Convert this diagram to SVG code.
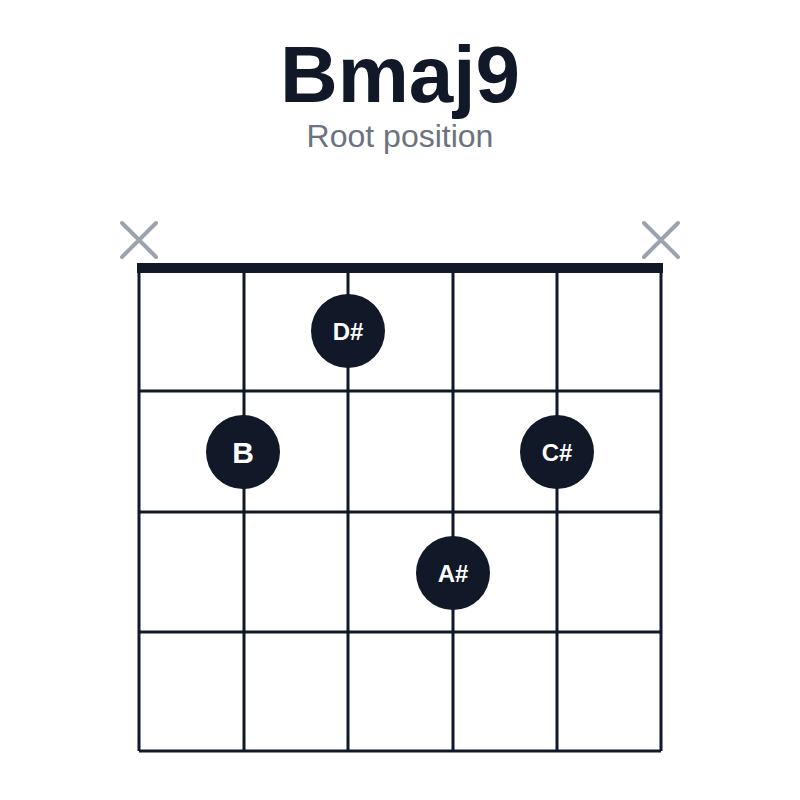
<svg xmlns="http://www.w3.org/2000/svg" width="800" height="800" viewBox="0 0 800 800">
<style>
.s{stroke:#111827;stroke-width:3;fill:none}
.x{stroke:#9ca3af;stroke-width:4;stroke-linecap:round}
.d{fill:#111827}
.t{fill:#fff;font-family:"Liberation Sans",Arial,sans-serif;font-weight:bold;text-anchor:middle}
</style>
<rect width="800" height="800" fill="#fff"/>
<text x="400" y="102" text-anchor="middle" font-family="Liberation Sans,Arial,sans-serif" font-weight="bold" font-size="80" fill="#111827">Bmaj9</text>
<text x="400" y="147" text-anchor="middle" font-family="Liberation Sans,Arial,sans-serif" font-size="32" fill="#6b7280">Root position</text>
<g id="grid">
<path class="s" d="M139 268V751M244 268V751M348 268V751M453 268V751M557 268V751M661 268V751M139 391H661M139 512H661M139 632H661M139 751H661"/>
<rect x="137" y="263" width="526" height="10" fill="#111827"/>
</g>
<g id="mutes">
<path class="x" d="M122 223L156 257M156 223L122 257M644 223L678 257M678 223L644 257"/>
</g>
<g id="n1"><circle class="d" cx="348" cy="331" r="37"/><text class="t" x="348" y="340" font-size="24">D#</text></g>
<g id="n2"><circle class="d" cx="243" cy="452" r="37"/><text class="t" x="243" y="463" font-size="30">B</text></g>
<g id="n3"><circle class="d" cx="557" cy="452" r="37"/><text class="t" x="557" y="461" font-size="24">C#</text></g>
<g id="n4"><circle class="d" cx="453" cy="573" r="37"/><text class="t" x="453" y="582" font-size="24">A#</text></g>
</svg>
